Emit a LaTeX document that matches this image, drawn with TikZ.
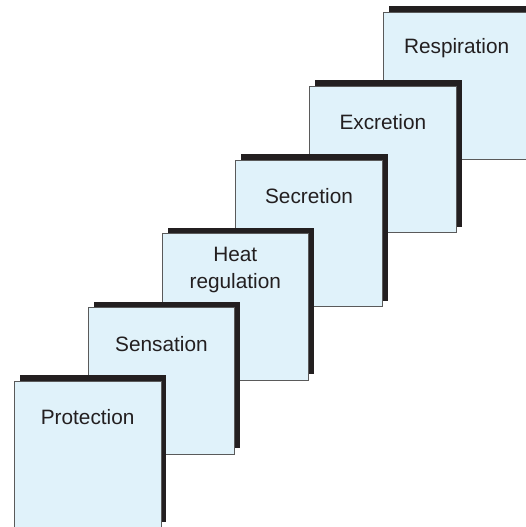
\documentclass[tikz,border=0pt]{standalone}
\usepackage{fontspec}
\setmainfont{Liberation Sans}
\usetikzlibrary{shadows}
\definecolor{boxfill}{HTML}{E0F2FA}
\definecolor{boxline}{HTML}{5A5A5A}
\definecolor{shad}{HTML}{231F20}
\definecolor{txt}{HTML}{231F20}
\begin{document}
\begin{tikzpicture}[x=1pt,y=-1pt,
  stepcard/.style={draw=boxline, line width=0.8pt, fill=boxfill,
    minimum width=146.5pt, minimum height=146.5pt, inner sep=0pt,
    anchor=north west,
    drop shadow={shadow xshift=5.5pt, shadow yshift=6pt, fill=shad, opacity=1}},
  cardlabel/.style={text=txt, align=center, font=\fontsize{20.8}{27}\selectfont, inner sep=0pt}]
\useasboundingbox (0,0) rectangle (526,527);
\foreach \i/\name/\lab in {5/resp/Respiration, 4/excr/Excretion, 3/secr/Secretion, 2/heat/{Heat\\regulation}, 1/sens/Sensation, 0/prot/Protection}{
  \node[stepcard] (\name) at ({14+73.8*\i},{381-73.8*\i}) {};
  \node[cardlabel] (\name-t) at ([yshift=-36.5pt]\name.north) {\lab};
}
\end{tikzpicture}
\end{document}
